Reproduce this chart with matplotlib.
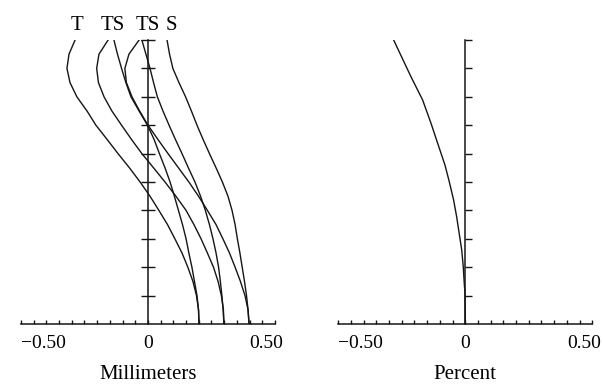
import numpy as np
import matplotlib
matplotlib.use('Agg')
import matplotlib.pyplot as plt

plt.rcParams['font.family'] = ['Liberation Serif', 'DejaVu Serif']

# relative field height, top to bottom
field = [1.0, 0.95, 0.9, 0.85, 0.8, 0.75, 0.7, 0.65, 0.6, 0.55, 0.5,
         0.45, 0.4, 0.35, 0.3, 0.25, 0.2, 0.15, 0.1, 0.05, 0.0]

# astigmatic field curves (mm), tangential / sagittal for three wavelengths
t1_mm = [-0.287, -0.311, -0.319, -0.307, -0.280, -0.240, -0.205, -0.161, -0.118, -0.073, -0.031,
         0.008, 0.043, 0.077, 0.106, 0.134, 0.157, 0.177, 0.191, 0.199, 0.201]
s1_mm = [-0.134, -0.120, -0.104, -0.087, -0.067, -0.035, -0.002, 0.024, 0.045, 0.067, 0.087,
         0.104, 0.120, 0.136, 0.150, 0.161, 0.173, 0.183, 0.193, 0.199, 0.201]
t2_mm = [-0.157, -0.193, -0.202, -0.195, -0.173, -0.142, -0.104, -0.065, -0.024, 0.022, 0.067,
         0.110, 0.150, 0.181, 0.209, 0.234, 0.258, 0.276, 0.289, 0.297, 0.299]
s2_mm = [-0.024, -0.008, 0.008, 0.022, 0.037, 0.059, 0.083, 0.108, 0.134, 0.159, 0.185,
         0.207, 0.226, 0.242, 0.256, 0.268, 0.278, 0.285, 0.291, 0.296, 0.299]
t3_mm = [-0.035, -0.075, -0.091, -0.085, -0.063, -0.033, 0.000, 0.039, 0.079, 0.120, 0.161,
         0.199, 0.234, 0.268, 0.295, 0.321, 0.343, 0.364, 0.382, 0.394, 0.398]
s3_mm = [0.075, 0.085, 0.098, 0.122, 0.148, 0.171, 0.193, 0.217, 0.242, 0.268, 0.293,
         0.315, 0.331, 0.343, 0.352, 0.362, 0.371, 0.380, 0.388, 0.394, 0.398]

# distortion (percent)
dist_field = [1.0, 0.871, 0.789, 0.707, 0.637, 0.560, 0.501, 0.437, 0.378, 0.319, 0.261, 0.202, 0.143, 0.108, 0.028, 0.0]
dist_pct = [-0.282, -0.214, -0.168, -0.135, -0.109, -0.080, -0.063, -0.046, -0.034, -0.024, -0.014, -0.008, -0.004, -0.001, 0.0, 0.0]

curve_labels = ['T', 'TS', 'TS', 'S']
curve_label_x = [-0.28, -0.138, 0.0, 0.094]

fig = plt.figure(figsize=(6.03, 3.85), dpi=100)
ax1 = fig.add_axes([0.0348, 0.1584, 0.4212, 0.7377])
ax2 = fig.add_axes([0.561, 0.1584, 0.4212, 0.7377])

line_kw = dict(color='#151515', lw=1.0)
for mm in [t1_mm, s1_mm, t2_mm, s2_mm, t3_mm, s3_mm]:
    ax1.plot(mm, field, **line_kw)
ax2.plot(dist_pct, dist_field, **line_kw)

for ax, xlabel, ydir in [(ax1, 'Millimeters', 'inout'), (ax2, 'Percent', 'in')]:
    ax.set_xlim(-0.5, 0.5)
    ax.set_ylim(0, 1)
    ax.spines['top'].set_visible(False)
    ax.spines['right'].set_visible(False)
    ax.spines['left'].set_position(('data', 0))
    for sp in ['left', 'bottom']:
        ax.spines[sp].set_linewidth(1.1)
        ax.spines[sp].set_color('#151515')
    ax.set_xticks(np.arange(-0.5, 0.501, 0.05))
    ax.set_xticklabels([])
    ax.tick_params(axis='x', direction='in', length=3, width=1.0, color='#151515')
    ax.set_yticks(np.arange(0.1, 1.001, 0.1))
    ax.set_yticklabels([])
    ax.tick_params(axis='y', direction=ydir, length=9.4 if ydir == 'inout' else 5,
                   width=1.0, color='#151515')
    tr = ax.get_xaxis_transform()
    ax.text(-0.5, -0.067, '\u22120.50', ha='left', va='center', fontsize=14, transform=tr)
    ax.text(0.0, -0.067, '0', ha='center', va='center', fontsize=14, transform=tr)
    ax.text(0.4665, -0.067, '0.50', ha='center', va='center', fontsize=14, transform=tr)
    ax.text(0.0, -0.178, xlabel, ha='center', va='center', fontsize=15, transform=tr)
    ax.patch.set_alpha(0)

for lbl, x in zip(curve_labels, curve_label_x):
    ax1.text(x, 1.05, lbl, ha='center', va='center', fontsize=15,
             transform=ax1.get_xaxis_transform())

fig.savefig('out.png', dpi=100, facecolor='white')
